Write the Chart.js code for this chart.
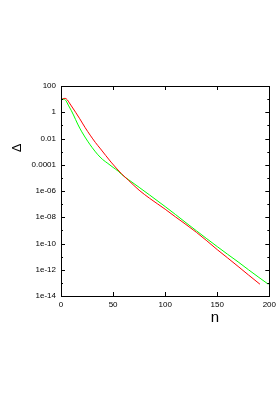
<!DOCTYPE html>
<html>
<head>
<meta charset="utf-8">
<script src="https://cdn.jsdelivr.net/npm/chart.js@4"></script>
<style>
  html, body { margin: 0; padding: 0; background: #fff; }
  #plot { display: block; }
</style>
</head>
<body>
<canvas id="plot" width="280" height="400"></canvas>
<script>
// red curve
const redN = [0, 2, 4, 6, 8, 10, 14, 18, 23, 28, 33, 38, 43, 48, 53, 58, 65, 75, 85, 100, 110, 120, 130, 140, 150, 160, 170, 180, 191];
const redDelta = [8.5, 10.5, 11.5, 8.9, 5.2, 3.0, 1.0, 0.32, 0.071, 0.018, 5.0e-3, 1.6e-3, 5.0e-4, 1.6e-4, 5.6e-5, 2.1e-5,
    6.3e-6, 1.15e-6, 2.8e-7, 4.1e-8, 1.05e-8, 2.8e-9, 7.1e-10, 1.6e-10, 3.4e-11, 7.9e-12, 1.8e-12, 4.0e-13, 7.9e-14];

// green curve
const greenN = [0, 3, 5, 7, 10, 12, 16, 20, 26, 30, 35, 40, 45, 50, 55, 58, 65, 75, 85, 100, 110, 120, 130, 140, 150, 160, 170, 180, 190, 199];
const greenDelta = [10, 10, 7.1, 3.5, 1.3, 0.62, 0.126, 0.032, 5.6e-3, 2.0e-3, 6.3e-4, 2.5e-4, 1.26e-4, 6.3e-5, 3.2e-5, 1.9e-5,
    7.1e-6, 1.9e-6, 5.0e-7, 6.5e-8, 1.6e-8, 3.8e-9, 9.3e-10, 2.3e-10, 5.8e-11, 1.5e-11, 4.0e-12, 1.0e-12, 2.6e-13, 7.9e-14];

const xTicks = [0, 50, 100, 150, 200];
const yTickValues = [1e-14, 1e-12, 1e-10, 1e-8, 1e-6, 1e-4, 1e-2, 1, 100];
const yTickLabels = ['1e-14', '1e-12', '1e-10', '1e-08', '1e-06', '0.0001', '0.01', '1', '100'];
const yMinorValues = [1e-13, 1e-11, 1e-9, 1e-7, 1e-5, 1e-3, 1e-1, 10];

function toPoints(xs, ys) {
    let pts = [];
    for (let i = 0; i < xs.length; i++) {
        pts.push({ x: xs[i], y: ys[i] });
    }
    return pts;
}

// frame, inside tick marks and axis titles
const framePlugin = {
    id: 'frame',
    afterDraw(chart) {
        const ctx = chart.ctx;
        const a = chart.chartArea;
        const xs = chart.scales.x;
        const ys = chart.scales.y;
        ctx.save();
        ctx.strokeStyle = '#000';
        ctx.lineWidth = 1;
        ctx.strokeRect(Math.round(a.left) + 0.5, Math.round(a.top) + 0.5, Math.round(a.right - a.left), Math.round(a.bottom - a.top));
        ctx.beginPath();
        for (let v of xTicks) {
            if (v === 0 || v === 200) continue;
            let px = Math.round(xs.getPixelForValue(v)) + 0.5;
            ctx.moveTo(px, a.bottom);
            ctx.lineTo(px, a.bottom - 4);
            ctx.moveTo(px, a.top);
            ctx.lineTo(px, a.top + 4);
        }
        for (let v of yTickValues) {
            let py = Math.round(ys.getPixelForValue(v)) + 0.5;
            ctx.moveTo(a.left, py);
            ctx.lineTo(a.left + 4, py);
            ctx.moveTo(a.right, py);
            ctx.lineTo(a.right - 4, py);
        }
        for (let v of yMinorValues) {
            let py = Math.round(ys.getPixelForValue(v)) + 0.5;
            ctx.moveTo(a.left, py);
            ctx.lineTo(a.left + 2, py);
            ctx.moveTo(a.right, py);
            ctx.lineTo(a.right - 2, py);
        }
        ctx.stroke();

        ctx.fillStyle = '#000';
        ctx.textAlign = 'center';
        ctx.textBaseline = 'middle';
        ctx.font = '15px "Liberation Sans", Arial, sans-serif';
        ctx.fillText('n', 215, 318);
        ctx.translate(17, 148);
        ctx.rotate(-Math.PI / 2);
        ctx.font = '13px "Liberation Sans", Arial, sans-serif';
        ctx.fillText('Δ', 0, 0);
        ctx.restore();
    }
};

const chart = new Chart(document.getElementById('plot'), {
    type: 'line',
    data: {
        datasets: [
            {
                label: 'red',
                data: toPoints(redN, redDelta),
                borderColor: '#ff0000',
                borderWidth: 1,
                pointRadius: 0,
                cubicInterpolationMode: 'monotone',
                fill: false
            },
            {
                label: 'green',
                data: toPoints(greenN, greenDelta),
                borderColor: '#00ff00',
                borderWidth: 1,
                pointRadius: 0,
                cubicInterpolationMode: 'monotone',
                fill: false
            }
        ]
    },
    options: {
        responsive: false,
        animation: false,
        events: [],
        layout: {
            padding: { left: 0, right: 9, top: 86, bottom: 64 }
        },
        plugins: {
            legend: { display: false },
            title: { display: false },
            tooltip: { enabled: false }
        },
        scales: {
            x: {
                type: 'linear',
                min: 0,
                max: 200,
                grid: { display: false, drawTicks: false },
                border: { display: false },
                afterBuildTicks: (scale) => {
                    scale.ticks = xTicks.map(v => ({ value: v }));
                },
                afterFit: (scale) => {
                    scale.height = 40;
                },
                ticks: {
                    maxRotation: 0,
                    padding: 4,
                    color: '#000',
                    font: { family: '"Liberation Sans", Arial, sans-serif', size: 8 }
                }
            },
            y: {
                type: 'logarithmic',
                min: 1e-14,
                max: 100,
                grid: { display: false, drawTicks: false },
                border: { display: false },
                afterBuildTicks: (scale) => {
                    scale.ticks = yTickValues.map(v => ({ value: v }));
                },
                afterFit: (scale) => {
                    scale.width = 61;
                },
                ticks: {
                    padding: 5,
                    color: '#000',
                    font: { family: '"Liberation Sans", Arial, sans-serif', size: 8 },
                    callback: function (value, index) {
                        return yTickLabels[index];
                    }
                }
            }
        }
    },
    plugins: [framePlugin]
});
</script>
</body>
</html>
